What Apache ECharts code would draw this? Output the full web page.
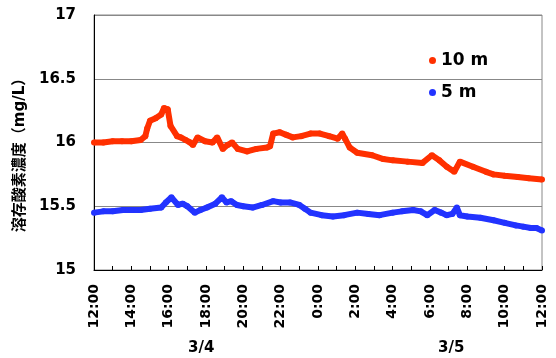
<!DOCTYPE html>
<html>
<head>
<meta charset="utf-8">
<script src="https://cdn.jsdelivr.net/npm/echarts@6/dist/echarts.min.js"></script>
<style>
  html, body { margin: 0; padding: 0; background: #fff; }
  #chart { width: 556px; height: 358px; }
</style>
</head>
<body>
<div id="chart"></div>
<script>
// hours counted from 0:00 on 3/4 (24 = 0:00 on 3/5)
var redHours = [12.0, 12.5, 13.0, 13.5, 14.0, 14.5, 14.75, 14.85, 15.0, 15.3, 15.6, 15.75, 15.95, 16.1, 16.45, 16.65, 16.9, 17.15, 17.3, 17.55, 17.95, 18.35, 18.6, 18.9, 19.15, 19.4, 19.7, 20.2, 20.7, 21.27, 21.43, 21.6, 21.95, 22.3, 22.65, 23.1, 23.6, 24.1, 24.6, 25.05, 25.3, 25.45, 25.7, 26.1, 26.9, 27.5, 28.0, 28.8, 29.6, 30.1, 30.5, 30.9, 31.3, 31.6, 32.3, 33.0, 33.4, 34.0, 34.7, 35.3, 36.0];
var redValues = [16.00, 16.00, 16.01, 16.01, 16.01, 16.02, 16.05, 16.11, 16.17, 16.19, 16.22, 16.27, 16.26, 16.13, 16.05, 16.04, 16.02, 16.00, 15.98, 16.04, 16.01, 16.00, 16.04, 15.95, 15.98, 16.00, 15.95, 15.93, 15.95, 15.96, 15.97, 16.07, 16.08, 16.06, 16.04, 16.05, 16.07, 16.07, 16.05, 16.03, 16.07, 16.03, 15.96, 15.92, 15.90, 15.87, 15.86, 15.85, 15.84, 15.90, 15.86, 15.81, 15.77, 15.85, 15.81, 15.77, 15.75, 15.74, 15.73, 15.72, 15.71];

var blueHours = [12.0, 12.5, 13.0, 13.55, 14.0, 14.5, 15.0, 15.6, 15.85, 16.15, 16.5, 16.75, 17.0, 17.4, 17.7, 18.05, 18.5, 18.85, 19.1, 19.35, 19.66, 20.0, 20.5, 21.0, 21.6, 22.0, 22.5, 23.0, 23.3, 23.6, 24.2, 24.8, 25.4, 26.1, 26.7, 27.3, 28.0, 28.5, 29.1, 29.5, 29.85, 30.25, 30.6, 30.9, 31.2, 31.44, 31.6, 32.0, 32.7, 33.4, 34.0, 34.6, 35.0, 35.4, 35.7, 36.0];
var blueValues = [15.45, 15.46, 15.46, 15.47, 15.47, 15.47, 15.48, 15.49, 15.53, 15.57, 15.51, 15.52, 15.50, 15.45, 15.47, 15.49, 15.52, 15.57, 15.53, 15.54, 15.51, 15.50, 15.49, 15.51, 15.54, 15.53, 15.53, 15.51, 15.48, 15.45, 15.43, 15.42, 15.43, 15.45, 15.44, 15.43, 15.45, 15.46, 15.47, 15.46, 15.43, 15.47, 15.45, 15.43, 15.44, 15.49, 15.43, 15.42, 15.41, 15.39, 15.37, 15.35, 15.34, 15.33, 15.33, 15.31];

var seriesNames = ["10 m", "5 m"];
var yTitle = "溶存酸素濃度（mg/L）";
var dateLabels = ["3/4", "3/5"];

function zip(xs, ys) {
  return xs.map(function (x, i) { return [x, ys[i]]; });
}

var font = "'DejaVu Sans', 'Noto Sans CJK JP', sans-serif";
var myChart = echarts.init(document.getElementById("chart"));
myChart.setOption({
  backgroundColor: "#fff",
  animation: false,
  grid: {
    left: 94,
    right: 14,
    top: 15,
    bottom: 88,
    show: true,
    borderColor: "#888",
    borderWidth: 1,
  },
  legend: {
    orient: "vertical",
    left: 424,
    top: 47,
    itemWidth: 7,
    itemHeight: 7,
    itemGap: 15,
    icon: "circle",
    textStyle: { fontFamily: font, fontWeight: "bold", fontSize: 17, color: "#000" },
    data: seriesNames,
  },
  xAxis: {
    type: "value",
    min: 12,
    max: 36,
    interval: 1,
    axisLine: { lineStyle: { color: "#000", width: 1 } },
    axisTick: { inside: true, length: 4, lineStyle: { color: "#000" } },
    splitLine: { show: false },
    axisLabel: {
      rotate: 90,
      margin: 14,
      hideOverlap: false,
      fontFamily: font,
      fontWeight: "bold",
      fontSize: 14,
      color: "#000",
      formatter: function (v) {
        return v % 2 === 0 ? (v % 24) + ":00" : "";
      },
    },
  },
  yAxis: {
    type: "value",
    min: 15,
    max: 17,
    interval: 0.5,
    name: yTitle,
    nameLocation: "middle",
    nameRotate: 90,
    nameGap: 60,
    nameTextStyle: { fontFamily: font, fontWeight: "bold", fontSize: 15, color: "#000", padding: [0, 18, 0, 0] },
    axisLine: { show: true, lineStyle: { color: "#000", width: 1 } },
    axisTick: { show: false },
    splitLine: { lineStyle: { color: "#888", width: 1 } },
    axisLabel: {
      margin: 18,
      fontFamily: font,
      fontWeight: "bold",
      fontSize: 15,
      color: "#000",
    },
  },
  graphic: [
    { type: "text", left: 188, top: 341, style: { text: dateLabels[0], font: "bold 15px " + font, fill: "#000" } },
    { type: "text", left: 438, top: 341, style: { text: dateLabels[1], font: "bold 15px " + font, fill: "#000" } },
  ],
  series: [
    {
      name: seriesNames[0],
      type: "line",
      data: zip(redHours, redValues),
      color: "#ff3000",
      symbol: "circle",
      symbolSize: 6,
      showSymbol: true,
      lineStyle: { width: 6 },
      z: 3,
    },
    {
      name: seriesNames[1],
      type: "line",
      data: zip(blueHours, blueValues),
      color: "#2233ff",
      symbol: "circle",
      symbolSize: 6,
      showSymbol: true,
      lineStyle: { width: 6 },
      z: 3,
    },
  ],
});
</script>
</body>
</html>
